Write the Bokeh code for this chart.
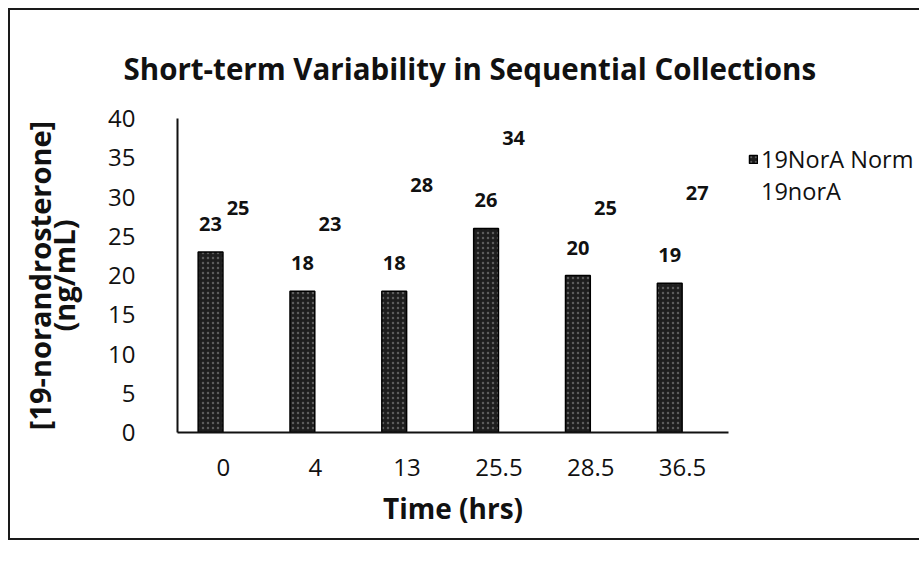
from bokeh.plotting import figure
from bokeh.models import ColumnDataSource, FactorRange, Legend, LegendItem, LabelSet, LinearAxis
from bokeh.core.properties import value
from bokeh.transform import dodge
from bokeh.embed import file_html
from bokeh.resources import INLINE

times = ["0", "4", "13", "25.5", "28.5", "36.5"]
norm_vals = [23, 18, 18, 26, 20, 19]
nora_vals = [25, 23, 28, 34, 25, 27]
y_ticks = [0, 5, 10, 15, 20, 25, 30, 35, 40]

src = ColumnDataSource(dict(
    t=times, norm=norm_vals, nora=nora_vals,
    norm_lbl=[str(v) for v in norm_vals], nora_lbl=[str(v) for v in nora_vals],
))

FONT = "Open Sans"
INK = "#111111"
p = figure(
    x_range=FactorRange(*times, range_padding=0), y_range=(0, 40),
    width=905, height=528, output_backend="svg", toolbar_location=None,
    title="Short-term Variability in Sequential Collections",
    frame_width=551, frame_height=314,
    min_border_left=167, min_border_top=108, min_border_right=187, min_border_bottom=106,
    styles={"margin": "8px 0 0 8px", "border-left": "2px solid #1a1a1a",
            "border-top": "2px solid #1a1a1a", "border-bottom": "2px solid #1a1a1a"},
)
p.outline_line_color = None
p.xgrid.grid_line_color = None
p.ygrid.grid_line_color = None

p.title.text_font = FONT
p.title.text_font_style = "bold"
p.title.text_font_size = "29.5px"
p.title.align = "left"
p.title.text_color = INK
p.title.standoff = 60
p.title.offset = -54

norm_r = p.vbar(x=dodge("t", -0.14, range=p.x_range), top="norm", width=0.27, source=src,
                fill_color="#1e1e1e", line_color="#000000", line_width=1.5,
                hatch_pattern="dot", hatch_color="#9a9a9a", hatch_scale=5, hatch_alpha=0.5)
nora_r = p.vbar(x=dodge("t", 0.16, range=p.x_range), top="nora", width=0.27, source=src,
                fill_color="white", fill_alpha=0.0, line_color=None)

for col, off, top in (("norm_lbl", -0.14, "norm"), ("nora_lbl", 0.16, "nora")):
    p.add_layout(LabelSet(x=dodge("t", off, range=p.x_range), y=top, text=col, source=src,
                          text_align="center", text_baseline="middle", y_offset=28,
                          text_font=value(FONT), text_font_style="bold",
                          text_font_size="20px", text_color=INK))

for ax in (p.xaxis[0], p.yaxis[0]):
    ax.axis_line_color = INK
    ax.axis_line_width = 2
    ax.major_tick_line_color = None
    ax.minor_tick_line_color = None
    ax.major_label_text_font = FONT
    ax.major_label_text_font_size = "24px"
    ax.major_label_text_color = INK
    ax.axis_label_text_font = FONT
    ax.axis_label_text_font_style = "bold"
    ax.axis_label_text_color = INK

p.yaxis.ticker = y_ticks
p.yaxis.major_label_standoff = 36
p.yaxis.axis_label = "(ng/mL)"
p.yaxis.axis_label_text_font_size = "29px"
p.yaxis.axis_label_standoff = 22
p.xaxis.major_label_standoff = 20
p.xaxis.axis_label = "Time (hrs)"
p.xaxis.axis_label_text_font_size = "28px"
p.xaxis.axis_label_standoff = 10

outer = LinearAxis(axis_label="[19-norandrosterone]", ticker=[],
                   axis_line_color=None, major_tick_line_color=None, minor_tick_line_color=None,
                   major_tick_in=0, major_tick_out=0, major_label_standoff=0,
                   major_label_text_font_size="0px", axis_label_standoff=-17,
                   axis_label_text_font=FONT, axis_label_text_font_style="bold",
                   axis_label_text_font_size="29px", axis_label_text_color=INK)
p.add_layout(outer, "left")

legend = Legend(items=[LegendItem(label="19NorA Norm", renderers=[norm_r]),
                       LegendItem(label="19norA", renderers=[nora_r])],
                border_line_color=None, background_fill_alpha=0,
                label_text_font=FONT, label_text_font_size="23.5px", label_text_color=INK,
                glyph_width=10, glyph_height=10, label_standoff=3, spacing=-6,
                label_height=24, margin=0, padding=0)
legend.location = (20, 225)
p.add_layout(legend, "right")

open("out.html", "w").write(file_html(p, INLINE))
